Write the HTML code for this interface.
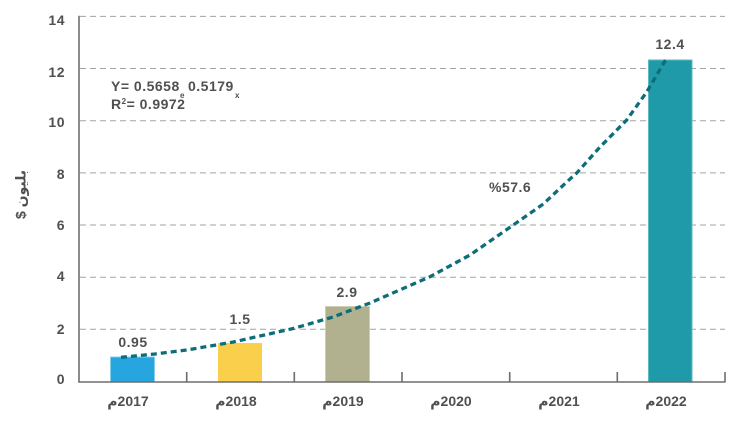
<!DOCTYPE html>
<html><head><meta charset="utf-8">
<style>
html,body{margin:0;padding:0;background:#fff;}
#c{position:relative;width:733px;height:421px;overflow:hidden;background:#fff;font-family:"Liberation Sans","DejaVu Sans",sans-serif;font-weight:bold;color:#505050;}
.t{position:absolute;font-size:14px;letter-spacing:0.5px;line-height:15px;white-space:nowrap;}
.yl{width:40px;text-align:right;left:25px;}
.xl{width:80px;text-align:center;}
.xl span{unicode-bidi:bidi-override;direction:ltr;}
.vl{width:60px;text-align:center;}
</style></head><body>
<div id="c">
<svg width="733" height="421" style="position:absolute;left:0;top:0">
  <g stroke="#a3a3a3" stroke-width="1" stroke-dasharray="6 4" fill="none">
    <line x1="80" y1="16.4" x2="725" y2="16.4"/>
    <line x1="80" y1="68.5" x2="725" y2="68.5"/>
    <line x1="80" y1="120.7" x2="725" y2="120.7"/>
    <line x1="80" y1="172.9" x2="725" y2="172.9"/>
    <line x1="80" y1="225" x2="725" y2="225"/>
    <line x1="80" y1="277.2" x2="725" y2="277.2"/>
    <line x1="80" y1="329.3" x2="725" y2="329.3"/>
  </g>
  <rect x="110.5" y="357" width="44" height="25" fill="#27A5DE" stroke="#86CDEE" stroke-width="1"/>
  <rect x="218" y="343" width="44" height="39" fill="#FACF4B"/>
  <rect x="325.5" y="306.5" width="44" height="75.5" fill="#B2B18F" stroke="#cfcdb4" stroke-width="1"/>
  <rect x="648.5" y="60" width="43.5" height="322" fill="#1F9AA8" stroke="#5cb9c3" stroke-width="1"/>
  <g stroke="#6e6e6e" stroke-width="1.6" fill="none">
    <line x1="79" y1="15.7" x2="79" y2="382.5"/>
    <line x1="78.2" y1="382" x2="725.5" y2="382"/>
    <line x1="186.7" y1="372" x2="186.7" y2="382"/>
    <line x1="294.3" y1="372" x2="294.3" y2="382"/>
    <line x1="402" y1="372" x2="402" y2="382"/>
    <line x1="509.7" y1="372" x2="509.7" y2="382"/>
    <line x1="617.3" y1="372" x2="617.3" y2="382"/>
    <line x1="725" y1="372" x2="725" y2="382"/>
  </g>
  <polyline fill="none" stroke="#0D6E7A" stroke-width="3.3" stroke-dasharray="6 4"
    points="121,357.3 155,354 186.7,350 233.3,342 293.3,328.5 333,317 370,303 430,276.7 470,255 513.3,225 543.3,204 566.7,182 577,172.7 600,147 626.7,120 646.7,92 666,59.3"/>
</svg>

<div class="t yl" style="top:13px">14</div>
<div class="t yl" style="top:65px">12</div>
<div class="t yl" style="top:115px">10</div>
<div class="t yl" style="top:167px">8</div>
<div class="t yl" style="top:218px">6</div>
<div class="t yl" style="top:269px">4</div>
<div class="t yl" style="top:322px">2</div>
<div class="t yl" style="top:372px">0</div>

<div class="t" style="left:-9px;top:187px;width:60px;text-align:center;direction:rtl;transform:rotate(-90deg);">بليون $</div>

<div class="t xl" style="left:88px;top:394px"><span>م2017</span></div>
<div class="t xl" style="left:196px;top:394px"><span>م2018</span></div>
<div class="t xl" style="left:303px;top:394px"><span>م2019</span></div>
<div class="t xl" style="left:411px;top:394px"><span>م2020</span></div>
<div class="t xl" style="left:519px;top:394px"><span>م2021</span></div>
<div class="t xl" style="left:626px;top:394px"><span>م2022</span></div>

<div class="t vl" style="left:103px;top:335px">0.95</div>
<div class="t vl" style="left:210px;top:312px">1.5</div>
<div class="t vl" style="left:317px;top:285px">2.9</div>
<div class="t vl" style="left:640px;top:37px">12.4</div>
<div class="t" style="left:489px;top:180px">%57.6</div>

<div class="t" style="left:111px;top:79px">Y= 0.5658</div>
<div class="t" style="left:180px;top:88px;font-size:8px;letter-spacing:0">e</div>
<div class="t" style="left:188px;top:79px">0.5179</div>
<div class="t" style="left:235px;top:88px;font-size:8px;letter-spacing:0">x</div>
<div class="t" style="left:111px;top:97px">R<sup style="font-size:8px;line-height:0;vertical-align:5px">2</sup>= 0.9972</div>
</div>
</body></html>
